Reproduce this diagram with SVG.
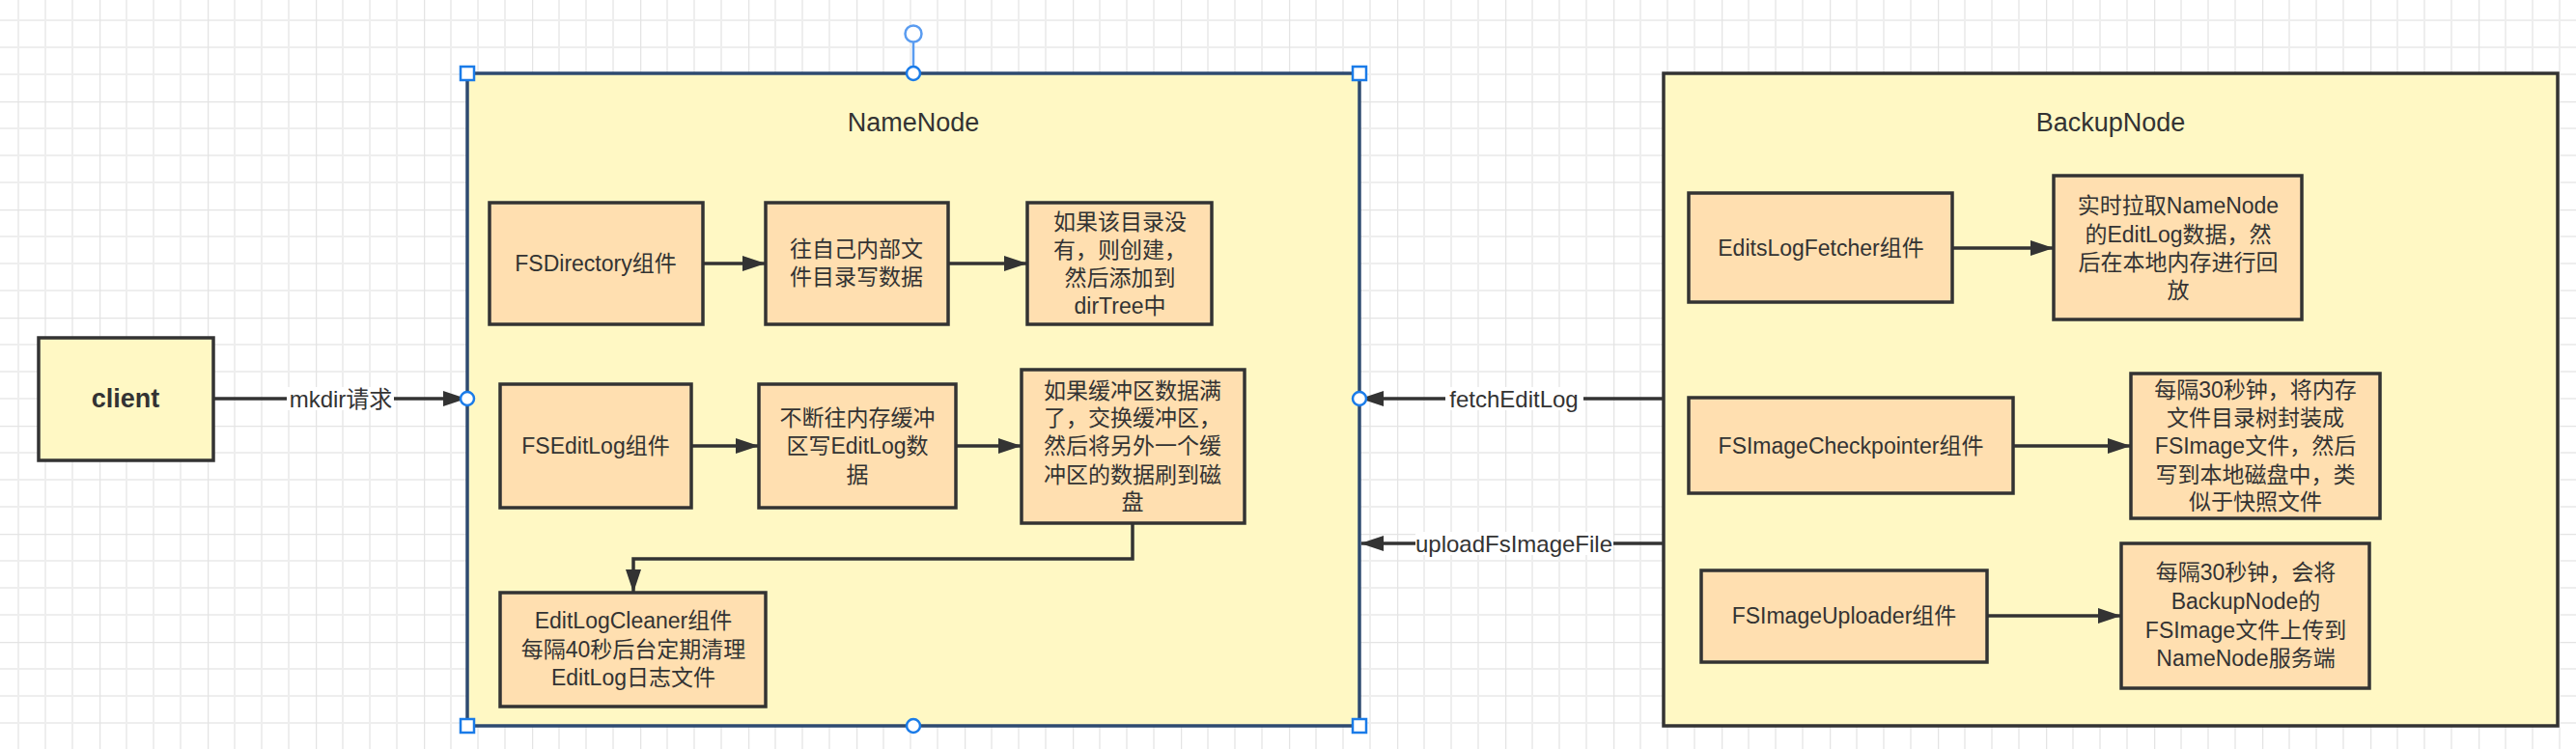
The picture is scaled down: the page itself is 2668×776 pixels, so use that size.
<svg xmlns="http://www.w3.org/2000/svg" width="2668" height="776" viewBox="0 0 2668 776">
<defs>
<pattern id="grid" patternUnits="userSpaceOnUse" x="-9" y="-7" width="112" height="112">
<rect width="112" height="112" fill="#ffffff"/>
<path d="M28 0V112M56 0V112M84 0V112M0 28H112M0 56H112M0 84H112" stroke="#eeeeee" stroke-width="2" fill="none"/>
<path d="M0 0V112M0 0H112" stroke="#e4e4e4" stroke-width="2.5" fill="none"/>
</pattern>
<marker id="arr" markerUnits="userSpaceOnUse" markerWidth="24" markerHeight="16" refX="23" refY="8" orient="auto">
<path d="M0,0 L24,8 L0,16 z" fill="#333333"/>
</marker>
<style>
.cont{fill:#fff8c4;stroke:#333333;stroke-width:3.5}
.box{fill:#ffdfb0;stroke:#333333;stroke-width:3.5}
.t{font-family:"Liberation Sans","Noto Sans CJK SC",sans-serif;font-size:23px;fill:#333333;text-anchor:middle;dominant-baseline:central}
.title{font-family:"Liberation Sans","Noto Sans CJK SC",sans-serif;font-size:27px;fill:#333333;text-anchor:middle;dominant-baseline:central}
.lbl{font-family:"Liberation Sans","Noto Sans CJK SC",sans-serif;font-size:24px;fill:#333333;text-anchor:middle;dominant-baseline:central}
.c{fill:none;stroke:#333333;stroke-width:3.5}
.lblbg{fill:#ffffff}
.h{fill:#ffffff;stroke:#1a7be8;stroke-width:2.5}
</style>
</defs>
<rect x="0" y="0" width="2668" height="776" fill="url(#grid)"/>

<g id="client">
<rect x="40" y="350" width="181" height="127" class="cont"/>
<text x="130" y="413" class="title" style="font-weight:bold">client</text>
</g>

<g id="namenode">
<rect x="484" y="76" width="924" height="676" class="cont" style="stroke:#2e4a70;stroke-width:3.5"/>
<text x="946" y="127" class="title">NameNode</text>
</g>

<g id="backupnode">
<rect x="1723" y="76" width="926" height="676" class="cont"/>
<text x="2186" y="127" class="title">BackupNode</text>
</g>

<g id="fsdirectory">
<rect x="507" y="210" width="221" height="126" class="box"/>
<text x="617" y="273" class="t">FSDirectory组件</text>
</g>
<g id="write-dir">
<rect x="793" y="210" width="189" height="126" class="box"/>
<text x="887" y="258" class="t">往自己内部文</text>
<text x="887" y="287" class="t">件目录写数据</text>
</g>
<g id="create-dir">
<rect x="1064" y="210" width="191" height="126" class="box"/>
<text x="1160" y="230" class="t">如果该目录没</text>
<text x="1160" y="259" class="t">有，则创建，</text>
<text x="1160" y="288" class="t">然后添加到</text>
<text x="1160" y="317" class="t">dirTree中</text>
</g>

<g id="fseditlog">
<rect x="518" y="398" width="198" height="128" class="box"/>
<text x="617" y="462" class="t">FSEditLog组件</text>
</g>
<g id="write-buffer">
<rect x="786" y="398" width="204" height="128" class="box"/>
<text x="888" y="433" class="t">不断往内存缓冲</text>
<text x="888" y="462" class="t">区写EditLog数</text>
<text x="888" y="492" class="t">据</text>
</g>
<g id="swap-buffer">
<rect x="1058" y="383" width="231" height="159" class="box"/>
<text x="1173" y="405" class="t">如果缓冲区数据满</text>
<text x="1173" y="433" class="t">了，交换缓冲区，</text>
<text x="1173" y="462" class="t">然后将另外一个缓</text>
<text x="1173" y="492" class="t">冲区的数据刷到磁</text>
<text x="1173" y="520" class="t">盘</text>
</g>
<g id="editlogcleaner">
<rect x="518" y="614" width="275" height="118" class="box"/>
<text x="656" y="643" class="t">EditLogCleaner组件</text>
<text x="656" y="673" class="t">每隔40秒后台定期清理</text>
<text x="656" y="702" class="t">EditLog日志文件</text>
</g>

<g id="editslogfetcher">
<rect x="1749" y="200" width="273" height="113" class="box"/>
<text x="1886" y="257" class="t">EditsLogFetcher组件</text>
</g>
<g id="replay">
<rect x="2127" y="182" width="257" height="149" class="box"/>
<text x="2256" y="213" class="t">实时拉取NameNode</text>
<text x="2256" y="243" class="t">的EditLog数据，然</text>
<text x="2256" y="272" class="t">后在本地内存进行回</text>
<text x="2256" y="301" class="t">放</text>
</g>
<g id="checkpointer">
<rect x="1749" y="412" width="336" height="99" class="box"/>
<text x="1917" y="462" class="t">FSImageCheckpointer组件</text>
</g>
<g id="checkpoint-desc">
<rect x="2207" y="387" width="258" height="150" class="box"/>
<text x="2336" y="404" class="t">每隔30秒钟，将内存</text>
<text x="2336" y="433" class="t">文件目录树封装成</text>
<text x="2336" y="462" class="t">FSImage文件，然后</text>
<text x="2336" y="492" class="t">写到本地磁盘中，类</text>
<text x="2336" y="520" class="t">似于快照文件</text>
</g>
<g id="uploader">
<rect x="1762" y="591" width="296" height="95" class="box"/>
<text x="1910" y="638" class="t">FSImageUploader组件</text>
</g>
<g id="upload-desc">
<rect x="2197" y="563" width="257" height="150" class="box"/>
<text x="2326" y="593" class="t">每隔30秒钟，会将</text>
<text x="2326" y="623" class="t">BackupNode的</text>
<text x="2326" y="653" class="t">FSImage文件上传到</text>
<text x="2326" y="682" class="t">NameNode服务端</text>
</g>

<g id="connectors">
<path d="M221 413H482" class="c" marker-end="url(#arr)"/>
<rect x="297" y="401" width="111" height="24" class="lblbg"/>
<text x="353" y="413" class="lbl">mkdir请求</text>

<path d="M1723 413H1410" class="c" marker-end="url(#arr)"/>
<rect x="1497" y="401" width="143" height="24" class="lblbg"/>
<text x="1568" y="413" class="lbl">fetchEditLog</text>

<path d="M1723 563H1410" class="c" marker-end="url(#arr)"/>
<rect x="1466" y="551" width="205" height="24" class="lblbg"/>
<text x="1568" y="563" class="lbl">uploadFsImageFile</text>

<path d="M728 273H792" class="c" marker-end="url(#arr)"/>
<path d="M982 273H1063" class="c" marker-end="url(#arr)"/>
<path d="M716 462H785" class="c" marker-end="url(#arr)"/>
<path d="M990 462H1057" class="c" marker-end="url(#arr)"/>
<path d="M1173 542V579H656V613" class="c" marker-end="url(#arr)"/>
<path d="M2022 257H2126" class="c" marker-end="url(#arr)"/>
<path d="M2085 462H2206" class="c" marker-end="url(#arr)"/>
<path d="M2058 638H2196" class="c" marker-end="url(#arr)"/>
</g>

<g id="selection-handles">
<line x1="946" y1="44" x2="946" y2="69" stroke="#5a9cf0" stroke-width="2.5"/>
<circle cx="946" cy="35" r="8.5" fill="#ffffff" stroke="#5a9cf0" stroke-width="2.5"/>
<rect x="477" y="69" width="14" height="14" class="h"/>
<rect x="1401" y="69" width="14" height="14" class="h"/>
<rect x="477" y="745" width="14" height="14" class="h"/>
<rect x="1401" y="745" width="14" height="14" class="h"/>
<circle cx="946" cy="76" r="7" class="h"/>
<circle cx="946" cy="752" r="7" class="h"/>
<circle cx="484" cy="413" r="7" class="h"/>
<circle cx="1408" cy="413" r="7" class="h"/>
</g>
</svg>
